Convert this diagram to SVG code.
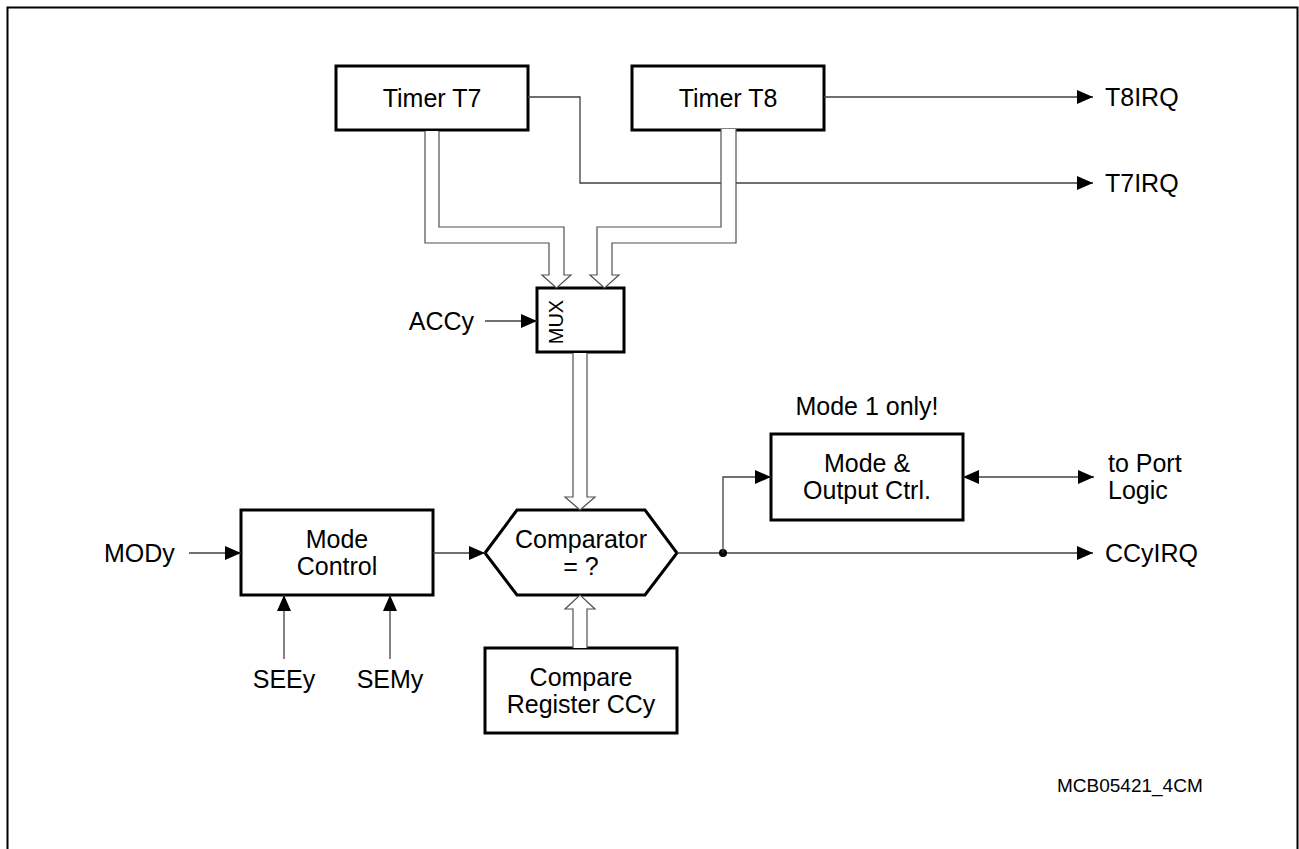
<svg xmlns="http://www.w3.org/2000/svg" width="1299" height="849" viewBox="0 0 1299 849">
<style>
.box{fill:#fff;stroke:#000;stroke-width:3}
.ln{fill:none;stroke:#404040;stroke-width:1.3}
.bus{fill:#fff;stroke:#505050;stroke-width:1.2}
.t{font-family:"Liberation Sans",Arial,sans-serif;font-size:25px;fill:#000}
.m{text-anchor:middle}
.s{font-family:"Liberation Sans",Arial,sans-serif;font-size:19px;fill:#000}
</style>
<defs>
<marker id="ah" markerUnits="userSpaceOnUse" markerWidth="16" markerHeight="14" refX="16" refY="7" orient="auto-start-reverse" viewBox="0 0 16 14">
<path d="M0,0 L16,7 L0,14 z" fill="#000"/>
</marker>
</defs>
<rect x="7.5" y="7.5" width="1290" height="900" fill="#fff" stroke="#000" stroke-width="2"/>

<g id="timerT7"><rect class="box" x="336" y="66" width="192" height="64"/><text class="t m" x="432" y="107">Timer T7</text></g>
<g id="timerT8"><rect class="box" x="632" y="66" width="192" height="64"/><text class="t m" x="728" y="107">Timer T8</text></g>
<g id="mux"><rect class="box" x="537" y="288" width="87" height="64"/><text class="t m" style="font-size:20px" x="563" y="322" transform="rotate(-90 563 322)">MUX</text></g>
<g id="modeControl"><rect class="box" x="241" y="510" width="192" height="85"/><text class="t m" x="337" y="548">Mode</text><text class="t m" x="337" y="575">Control</text></g>
<g id="comparator"><polygon class="box" points="485,553 517,510 645,510 677,553 645,595 517,595"/><text class="t m" x="581" y="548">Comparator</text><text class="t m" x="581" y="575">= ?</text></g>
<g id="compareRegister"><rect class="box" x="485" y="648" width="192" height="85"/><text class="t m" x="581" y="686">Compare</text><text class="t m" x="581" y="713">Register CCy</text></g>
<g id="modeOutput"><text class="t m" x="867" y="415">Mode 1 only!</text><rect class="box" x="771" y="434" width="192" height="86"/><text class="t m" x="867" y="472">Mode &amp;</text><text class="t m" x="867" y="499">Output Ctrl.</text></g>

<g id="labels">
<text class="t" x="1105" y="106">T8IRQ</text>
<text class="t" x="1105" y="192">T7IRQ</text>
<text class="t" x="474" y="330" text-anchor="end">ACCy</text>
<text class="t" x="104" y="562">MODy</text>
<text class="t m" x="284" y="688">SEEy</text>
<text class="t m" x="390" y="688">SEMy</text>
<text class="t" x="1105" y="562">CCyIRQ</text>
<text class="t" x="1108" y="472">to Port</text>
<text class="t" x="1108" y="499">Logic</text>
<text class="s" x="1057" y="792">MCB05421_4CM</text>
</g>

<g id="connectors">
<line class="ln" x1="824" y1="97" x2="1093" y2="97" marker-end="url(#ah)"/>
<path class="ln" d="M528,97 H580 V183 H1093" marker-end="url(#ah)"/>
<path class="bus" d="M425,131 V243 H549 V275 H542 L556.5,288 L571,275 H564 V227 H439 V131"/>
<path class="bus" d="M721,129 V227 H597 V275 H590 L604.5,288 L619,275 H612 V243 H736 V129"/>
<line class="ln" x1="485" y1="321" x2="537" y2="321" marker-end="url(#ah)"/>
<path class="bus" d="M573,353 V497 H565 L580,510 L595,497 H587 V353"/>
<path class="bus" d="M573,648 V609 H565 L580,595 L595,609 H587 V648"/>
<line class="ln" x1="189" y1="553" x2="241" y2="553" marker-end="url(#ah)"/>
<line class="ln" x1="433" y1="553" x2="485" y2="553" marker-end="url(#ah)"/>
<line class="ln" x1="284" y1="659" x2="284" y2="595" marker-end="url(#ah)"/>
<line class="ln" x1="390" y1="659" x2="390" y2="595" marker-end="url(#ah)"/>
<line class="ln" x1="677" y1="553" x2="1093" y2="553" marker-end="url(#ah)"/>
<circle cx="723" cy="553" r="4" fill="#000"/>
<path class="ln" d="M723,553 V477 H771" marker-end="url(#ah)"/>
<line class="ln" x1="963" y1="477" x2="1094" y2="477" marker-start="url(#ah)" marker-end="url(#ah)"/>
</g>
</svg>
